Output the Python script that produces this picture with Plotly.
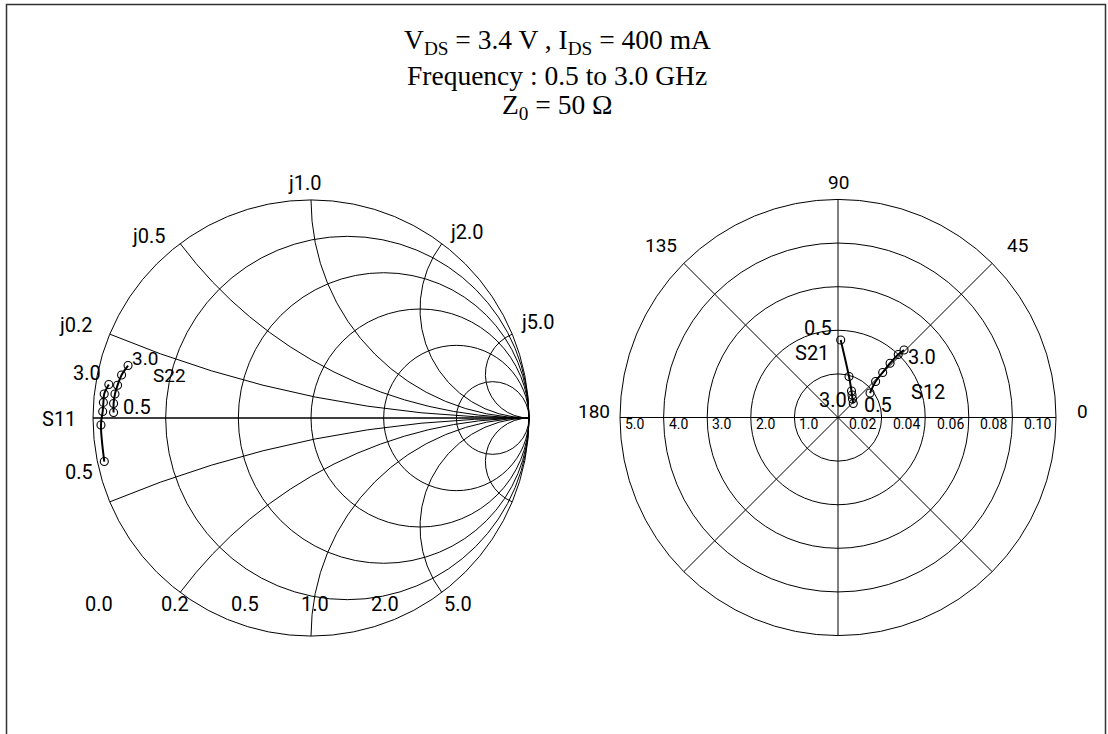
import numpy as np
import plotly.graph_objects as go

# ---------------- data ----------------
freq_labels = ["0.5", "1.0", "1.5", "2.0", "2.5", "3.0"]   # GHz

s11_mag = [0.969, 0.964, 0.956, 0.955, 0.955, 0.940]
s11_ang = [-168.1, -178.1, 178.2, 175.7, 173.4, 170.6]
s22_mag = [0.906, 0.908, 0.906, 0.900, 0.891, 0.873]
s22_ang = [178.4, 175.8, 173.0, 170.4, 167.2, 164.0]

s21_mag = [1.78, 0.974, 0.682, 0.608, 0.539, 0.475]
s21_ang = [88.0, 75.0, 63.0, 58.1, 51.9, 42.5]
s12_mag = [0.0185, 0.0239, 0.0291, 0.0345, 0.0400, 0.0433]
s12_ang = [37.4, 43.8, 45.2, 46.2, 46.3, 45.6]

smith_ticks = [0.2, 0.5, 1.0, 2.0, 5.0]
smith_bottom_labels = ["0.0", "0.2", "0.5", "1.0", "2.0", "5.0"]
smith_react_labels = ["j0.2", "j0.5", "j1.0", "j2.0", "j5.0"]
s21_ticks = [1.0, 2.0, 3.0, 4.0, 5.0]
s12_ticks = [0.02, 0.04, 0.06, 0.08, 0.10]
angle_ticks = [0, 45, 90, 135, 180, 225, 270, 315]
angle_text = ["0", "45", "90", "135", "180", "", "", ""]
title_lines = ["V<sub>DS</sub> = 3.4 V , I<sub>DS</sub> = 400 mA",
               "Frequency : 0.5 to 3.0 GHz",
               "Z<sub>0</sub> = 50 Ω"]

# ---------------- geometry ----------------
W, H = 1108, 734
SC = (311.0, 418.0)   # smith centre (px)
PC = (838.0, 417.5)   # polar centre (px)
R = 218.0

def px(x):
    return x / W

def py(y):
    return 1 - y / H

def to_z(mag, ang):
    g = np.array(mag) * np.exp(1j * np.deg2rad(np.array(ang)))
    return (1 + g) / (1 - g)

z11 = to_z(s11_mag, s11_ang)
z22 = to_z(s22_mag, s22_ang)

BLK = "black"
SANS = "Roboto, Liberation Sans, sans-serif"

fig = go.Figure()

line_style = dict(color=BLK, width=2, shape="spline")
mk = dict(symbol="circle-open", size=8, color=BLK, line=dict(width=1.1, color=BLK))

fig.add_trace(go.Scattersmith(real=z11.real, imag=z11.imag, mode="lines+markers",
                              line=line_style, marker=mk, subplot="smith", name="S11"))
fig.add_trace(go.Scattersmith(real=z22.real, imag=z22.imag, mode="lines+markers",
                              line=line_style, marker=mk, subplot="smith", name="S22"))

fig.add_trace(go.Scatterpolar(r=s12_mag, theta=s12_ang, mode="lines+markers",
                              line=dict(color=BLK, width=2, shape="spline"), marker=mk,
                              subplot="polar", name="S12"))
fig.add_trace(go.Scatterpolar(r=s21_mag, theta=s21_ang, mode="lines+markers",
                              line=dict(color=BLK, width=2, shape="spline"), marker=mk,
                              subplot="polar2", name="S21"))

smith_dom = dict(x=[px(SC[0] - R), px(SC[0] + R)], y=[py(SC[1] + R), py(SC[1] - R)])
polar_dom = dict(x=[px(PC[0] - R), px(PC[0] + R)], y=[py(PC[1] + R), py(PC[1] - R)])

imag_vals = [-v for v in smith_ticks[::-1]] + [0] + smith_ticks

fig.update_layout(
    width=W, height=H, autosize=False,
    margin=dict(l=0, r=0, t=0, b=0),
    paper_bgcolor="white", plot_bgcolor="white",
    showlegend=False,
    smith=dict(
        domain=smith_dom, bgcolor="white",
        realaxis=dict(tickvals=smith_ticks, showticklabels=False, ticks="",
                      gridcolor=BLK, gridwidth=1, linecolor=BLK, linewidth=1, showline=True),
        imaginaryaxis=dict(tickvals=imag_vals, showticklabels=False, ticks="",
                           gridcolor=BLK, gridwidth=1, linecolor=BLK, linewidth=1, showline=True),
    ),
    polar=dict(
        domain=polar_dom, bgcolor="white",
        radialaxis=dict(range=[0, 0.10], tickvals=s12_ticks, showticklabels=False, ticks="",
                        showline=False, gridcolor=BLK, gridwidth=1),
        angularaxis=dict(tickvals=angle_ticks, showticklabels=False,
                         ticks="", gridcolor=BLK, gridwidth=1, linecolor=BLK, linewidth=1,
                         showline=True, direction="counterclockwise", rotation=0),
    ),
    polar2=dict(
        domain=polar_dom, bgcolor="rgba(0,0,0,0)",
        radialaxis=dict(range=[0, 5], visible=False),
        angularaxis=dict(visible=False, direction="counterclockwise", rotation=0),
    ),
)

ann = []

def add(text, x, y, size=20, family=SANS, xanchor="center", yanchor="middle"):
    ann.append(dict(text=text, x=px(x), y=py(y), xref="paper", yref="paper",
                    showarrow=False, xanchor=xanchor, yanchor=yanchor,
                    font=dict(size=size, family=family, color=BLK)))

# title (three lines)
for t, y in zip(title_lines, [42, 75, 107]):
    add(t, 557, y, size=27.5, family="Liberation Serif, serif")

# smith reactance labels (positive side)
react_pos = [(76, 325), (149, 236), (305, 183), (467, 232), (538, 322)]
for t, (x, y) in zip(smith_react_labels, react_pos):
    add(t, x, y, size=20)
# smith resistance labels below chart
bottom_x = [99, 175, 245, 315, 385, 458]
for t, x in zip(smith_bottom_labels, bottom_x):
    add(t, x, 604, size=20)

# smith data labels
add("S11", 59, 419)
add(freq_labels[0], 79, 472)
add(freq_labels[-1], 87, 372.5)
add(freq_labels[-1], 145, 358.5, size=19)
add("S22", 169, 375, size=19)
add(freq_labels[0], 136.5, 407.5)

# polar angle labels
ang_pos = {"0": (1082, 411), "45": (1017, 245), "90": (838, 182),
           "135": (661, 245), "180": (594, 411)}
for t in angle_text:
    if t:
        add(t, *ang_pos[t], size=19)

# polar radial labels
for v in s12_ticks:
    xc = PC[0] + (v - 0.01) / 0.10 * R + 3
    add(f"{v:.2f}", xc, 424, size=14)
for v in s21_ticks:
    xl = PC[0] - v / 5.0 * R + 3
    add(f"{v:.1f}", xl, 424, size=14, xanchor="left")

# polar data labels
add(freq_labels[0], 817.5, 327.5)
add("S21", 812, 352.5)
add(freq_labels[-1], 833, 400)
add(freq_labels[0], 878, 405)
add(freq_labels[-1], 921.5, 356.5)
add("S12", 927.5, 391.5)

fig.update_layout(annotations=ann)

# frame
fig.add_shape(type="rect", xref="paper", yref="paper",
              x0=px(6.5), x1=px(1105.5), y0=py(745), y1=py(4.5),
              line=dict(color="#333333", width=1.5), fillcolor="rgba(0,0,0,0)")

fig.write_html("out.html", config={"displayModeBar": False},
               post_script="document.body.style.margin='0px';")
